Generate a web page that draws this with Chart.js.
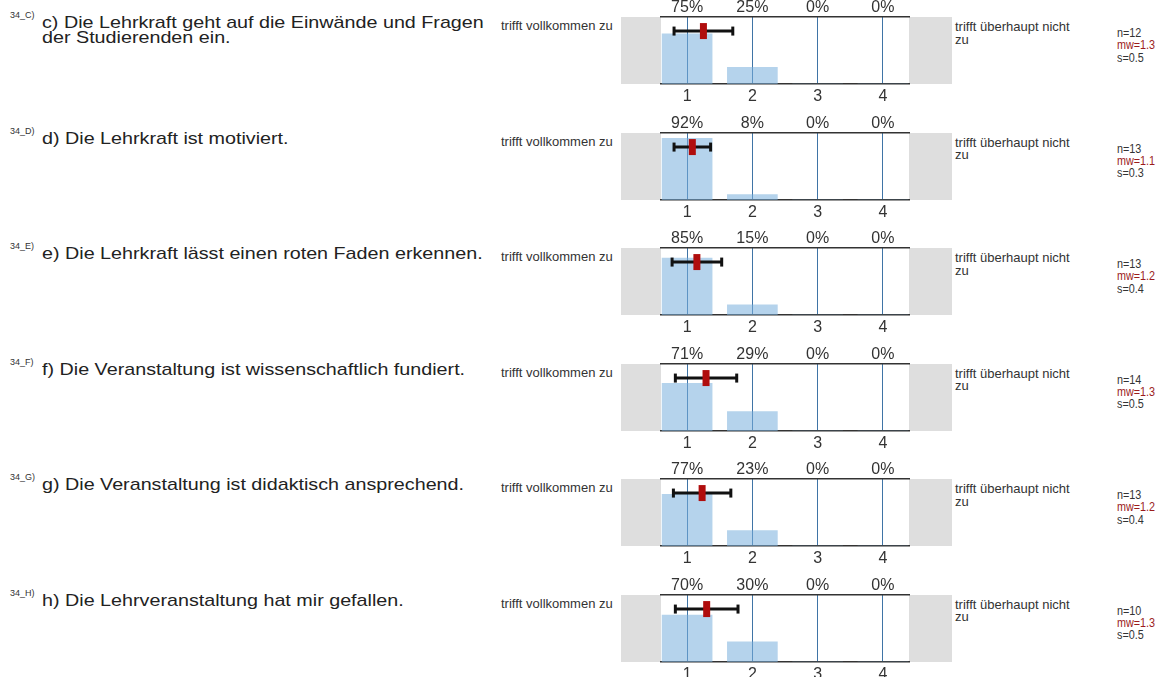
<!DOCTYPE html>
<html>
<head>
<meta charset="utf-8">
<script src="https://cdn.jsdelivr.net/npm/chart.js@4.4.1/dist/chart.umd.min.js"></script>
<style>
  html, body { margin: 0; padding: 0; background: #fff; }
  #wrap { position: relative; width: 1172px; height: 677px; overflow: hidden; font-family: "Liberation Sans", Arial, sans-serif; color: #222; }
  .qid { position: absolute; left: 10px; font-size: 9px; color: #333; }
  .q { position: absolute; left: 42px; width: 390px; font-size: 17px; line-height: 15px; color: #222; transform: scaleX(1.16); transform-origin: 0 0; }
  .lbl { position: absolute; font-size: 13px; line-height: 12.5px; color: #333; }
  .stats { position: absolute; left: 1117px; font-size: 12px; line-height: 12.3px; color: #333; transform: scaleX(0.9); transform-origin: 0 0; }
  .stats .mw { color: #9b1c1c; }
  canvas.row { position: absolute; }
</style>
</head>
<body>
<div id="wrap"></div>
<script>
// ---- data ----
const questionIds = ['34_C)', '34_D)', '34_E)', '34_F)', '34_G)', '34_H)'];
const questions = [
  'c) Die Lehrkraft geht auf die Einwände und Fragen der Studierenden ein.',
  'd) Die Lehrkraft ist motiviert.',
  'e) Die Lehrkraft lässt einen roten Faden erkennen.',
  'f) Die Veranstaltung ist wissenschaftlich fundiert.',
  'g) Die Veranstaltung ist didaktisch ansprechend.',
  'h) Die Lehrveranstaltung hat mir gefallen.'
];
const answerTicks = [1, 2, 3, 4];
const tickLabels = ['1', '2', '3', '4'];
const share1 = [75, 92, 85, 71, 77, 70];
const share2 = [25, 8, 15, 29, 23, 30];
const share3 = [0, 0, 0, 0, 0, 0];
const share4 = [0, 0, 0, 0, 0, 0];
const nValues = [12, 13, 13, 14, 13, 10];
const mwLabels = ['1.3', '1.1', '1.2', '1.3', '1.2', '1.3'];
const sLabels = ['0.5', '0.3', '0.4', '0.5', '0.4', '0.5'];
const meanPos = [1.25, 1.08, 1.15, 1.29, 1.23, 1.3];
const sdPos = [0.45, 0.28, 0.38, 0.47, 0.44, 0.48];
const leftPole = 'trifft vollkommen zu';
const rightPole = 'trifft überhaupt nicht<br>zu';

// ---- layout ----
const ROW0 = 17, PITCH = 115.5;
const CANVAS_LEFT = 600, CANVAS_W = 360, TOP_AX = 17, PLOT_H = 67, BOT_AX = 22;
const wrap = document.getElementById('wrap');

const grayBoxes = {
  id: 'grayBoxes',
  beforeDraw(chart) {
    const a = chart.chartArea, c = chart.ctx;
    c.save();
    c.fillStyle = '#dedede';
    c.fillRect(a.left - 40, a.top, 40, a.bottom - a.top);
    c.fillRect(a.right, a.top, 43, a.bottom - a.top);
    c.restore();
  }
};

for (let i = 0; i < questions.length; i++) {
  const top = ROW0 + i * PITCH;

  const qid = document.createElement('div');
  qid.className = 'qid'; qid.style.top = (top - 7) + 'px'; qid.textContent = questionIds[i];
  wrap.appendChild(qid);

  const q = document.createElement('div');
  q.className = 'q'; q.style.top = (top - 2) + 'px'; q.textContent = questions[i];
  wrap.appendChild(q);

  const l = document.createElement('div');
  l.className = 'lbl'; l.style.left = '501px'; l.style.top = (top + 3) + 'px'; l.innerHTML = leftPole;
  wrap.appendChild(l);

  const r = document.createElement('div');
  r.className = 'lbl'; r.style.left = '955px'; r.style.top = (top + 4) + 'px'; r.innerHTML = rightPole;
  wrap.appendChild(r);

  const st = document.createElement('div');
  st.className = 'stats'; st.style.top = (top + 10) + 'px';
  st.innerHTML = 'n=' + nValues[i] + '<br><span class="mw">mw=' + mwLabels[i] + '</span><br>s=' + sLabels[i];
  wrap.appendChild(st);

  const cv = document.createElement('canvas');
  cv.className = 'row';
  cv.style.left = CANVAS_LEFT + 'px';
  cv.style.top = (top - TOP_AX) + 'px';
  cv.style.width = CANVAS_W + 'px';
  cv.style.height = (TOP_AX + PLOT_H + BOT_AX) + 'px';
  cv.width = CANVAS_W; cv.height = TOP_AX + PLOT_H + BOT_AX;
  wrap.appendChild(cv);

  const shares = [share1[i], share2[i], share3[i], share4[i]];
  const fixTicks = (scale) => { scale.ticks = answerTicks.map(v => ({ value: v })); };

  new Chart(cv, {
    type: 'bar',
    data: {
      datasets: [
        {
          type: 'scatter', order: 0,
          data: [{ x: meanPos[i], y: 79 }],
          pointStyle: 'line', pointRotation: 90, pointRadius: 8,
          pointBorderWidth: 7, borderColor: '#b00d0d', backgroundColor: '#b00d0d'
        },
        {
          type: 'line', order: 1,
          data: [{ x: meanPos[i] - sdPos[i], y: 79 }, { x: meanPos[i] + sdPos[i], y: 79 }],
          borderColor: '#111', borderWidth: 3,
          pointStyle: 'line', pointRotation: 90, pointRadius: 4.5,
          pointBorderWidth: 3, pointBorderColor: '#111', pointBackgroundColor: '#111'
        },
        {
          type: 'bar', order: 2,
          data: answerTicks.map((v, k) => ({ x: v, y: shares[k] })),
          backgroundColor: 'rgba(120,175,220,0.55)',
          borderWidth: 0, barThickness: 50
        }
      ]
    },
    options: {
      responsive: false, animation: false, events: [],
      layout: { padding: { left: 61, right: 51, top: 0, bottom: 0 } },
      plugins: { legend: { display: false }, tooltip: { enabled: false } },
      scales: {
        x: {
          type: 'linear', position: 'bottom', min: 0.6, max: 4.4, offset: false,
          afterBuildTicks: fixTicks,
          afterFit: (s) => { s.height = BOT_AX; },
          grid: { color: '#3f74a6', lineWidth: 1, drawTicks: false, offset: false },
          border: { display: true, color: '#333', width: 1.5 },
          ticks: {
            padding: 3, color: '#333', maxRotation: 0, autoSkip: false,
            font: { family: '"Liberation Sans", Arial, sans-serif', size: 16 },
            callback: (v) => tickLabels[answerTicks.indexOf(v)]
          }
        },
        x2: {
          type: 'linear', position: 'top', min: 0.6, max: 4.4, offset: false,
          afterBuildTicks: fixTicks,
          afterFit: (s) => { s.height = TOP_AX; },
          grid: { display: false, drawTicks: false, offset: false },
          border: { display: true, color: '#333', width: 1.5 },
          ticks: {
            padding: 0, color: '#333', maxRotation: 0, autoSkip: false,
            font: { family: '"Liberation Sans", Arial, sans-serif', size: 16 },
            callback: (v) => shares[answerTicks.indexOf(v)] + '%'
          }
        },
        y: { display: false, min: 0, max: 100 }
      }
    },
    plugins: [grayBoxes]
  });
}
</script>
</body>
</html>
